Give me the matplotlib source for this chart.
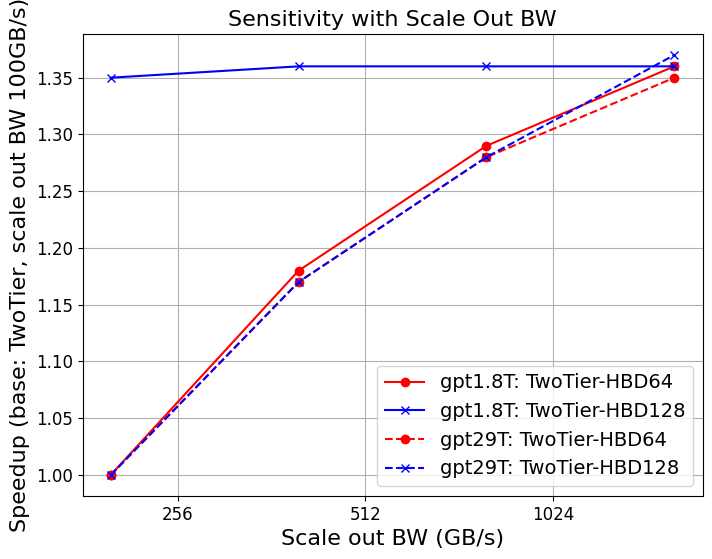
import matplotlib
matplotlib.use("Agg")
import matplotlib.pyplot as plt
from matplotlib.ticker import ScalarFormatter, NullFormatter, NullLocator

bw = [200, 400, 800, 1600]
gpt18_hbd64 = [1.00, 1.18, 1.29, 1.36]
gpt18_hbd128 = [1.35, 1.36, 1.36, 1.36]
gpt29_hbd64 = [1.00, 1.17, 1.28, 1.35]
gpt29_hbd128 = [1.00, 1.17, 1.28, 1.37]
xticks = [256, 512, 1024]

fig = plt.figure(figsize=(7.12, 5.59), dpi=100)
ax = fig.add_axes([82.5/712, (559-496)/559, 620/712, 462/559])

ax.plot(bw, gpt18_hbd64, 'r-o', label='gpt1.8T: TwoTier-HBD64')
ax.plot(bw, gpt18_hbd128, 'b-x', label='gpt1.8T: TwoTier-HBD128')
ax.plot(bw, gpt29_hbd64, 'r--o', label='gpt29T: TwoTier-HBD64')
ax.plot(bw, gpt29_hbd128, 'b--x', label='gpt29T: TwoTier-HBD128')

ax.set_xscale('log', base=2)
ax.set_xticks(xticks)
ax.xaxis.set_major_formatter(ScalarFormatter())
ax.xaxis.set_minor_locator(NullLocator())
ax.xaxis.set_minor_formatter(NullFormatter())
ax.tick_params(labelsize=12)
ax.grid(True)
ax.set_xlabel('Scale out BW (GB/s)', fontsize=16)
ax.set_ylabel('Speedup (base: TwoTier, scale out BW 100GB/s)', fontsize=16)
ax.set_title('Sensitivity with Scale Out BW', fontsize=16)
ax.legend(loc='lower right', fontsize=14)

fig.savefig('out.png', dpi=100)
